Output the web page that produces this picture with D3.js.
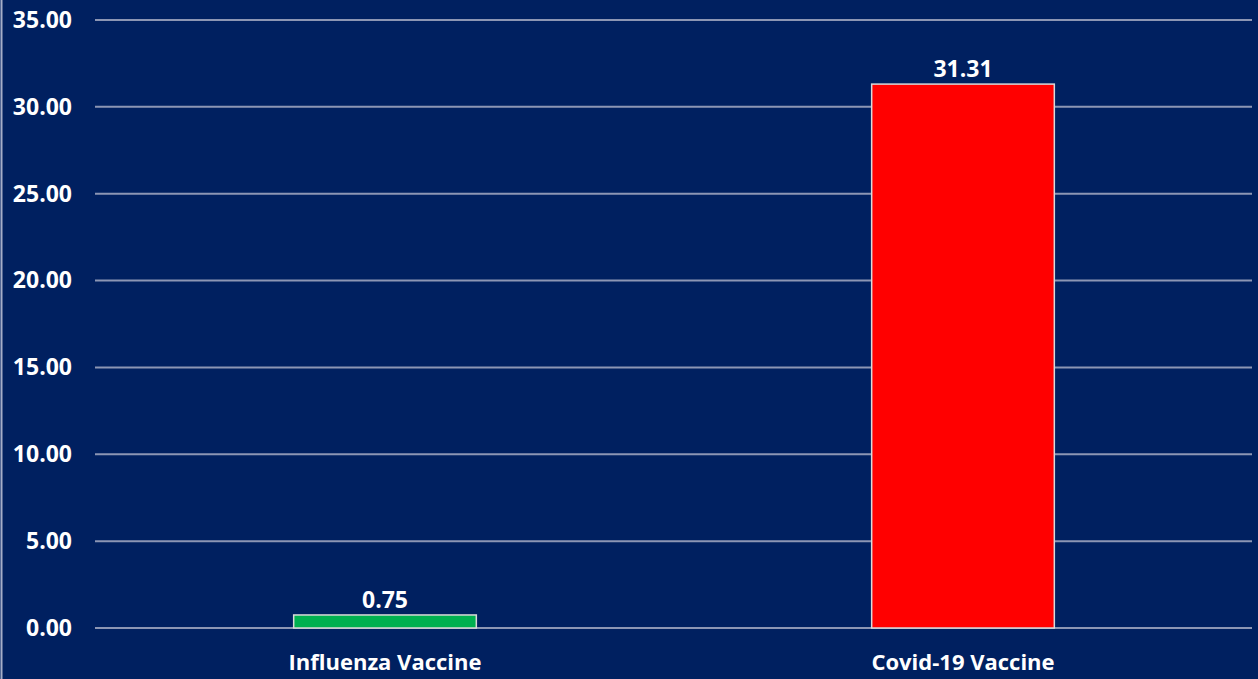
<!DOCTYPE html>
<html>
<head>
<meta charset="utf-8">
<script src="https://cdn.jsdelivr.net/npm/d3@7"></script>
<style>
  body { margin: 0; background: #002060; }
  svg { display: block; }
</style>
</head>
<body>
<script>
var width = 1258,
    height = 679;

// data
var categories = ["Influenza Vaccine", "Covid-19 Vaccine"];
var values = [0.75, 31.31];
var barColors = ["#00b050", "#ff0000"];
var yTicks = [0, 5, 10, 15, 20, 25, 30, 35];

var margin = {top: 20, right: 6, bottom: 51, left: 96};
var font = "'Open Sans', Lato, sans-serif";

var svg = d3.select("body").append("svg")
    .attr("width", width)
    .attr("height", height);

svg.append("rect")
    .attr("width", width)
    .attr("height", height)
    .attr("fill", "#002060");

// thin frame on the left edge
svg.append("line")
    .attr("x1", 1.5).attr("x2", 1.5)
    .attr("y1", 0).attr("y2", height)
    .attr("stroke", "#a6aec8")
    .attr("stroke-width", 2);

var x = d3.scaleBand()
    .domain(categories)
    .range([margin.left, width - margin.right])
    .padding(0);

var y = d3.scaleLinear()
    .domain([0, 35])
    .range([height - margin.bottom, margin.top]);

var barW = x.bandwidth() * 0.316;

// gridlines
svg.append("g")
    .selectAll("line")
    .data(yTicks)
    .enter().append("line")
    .attr("x1", margin.left - 1)
    .attr("x2", width - margin.right)
    .attr("y1", function(d) { return y(d); })
    .attr("y2", function(d) { return y(d); })
    .attr("stroke", "#8c96b4")
    .attr("stroke-width", 2);

// y axis labels
var yAxis = d3.axisLeft(y)
    .tickValues(yTicks)
    .tickSize(0)
    .tickPadding(0)
    .tickFormat(d3.format(".2f"));

var ya = svg.append("g")
    .attr("transform", "translate(72,0)")
    .call(yAxis);
ya.select(".domain").remove();
ya.selectAll("text")
    .attr("fill", "#ffffff")
    .style("font-family", font)
    .style("font-weight", "bold")
    .style("font-size", "23px");

// bars
svg.append("g")
    .selectAll("rect")
    .data(values)
    .enter().append("rect")
    .attr("x", function(d, i) { return x(categories[i]) + x.bandwidth() / 2 - barW / 2; })
    .attr("y", function(d) { return y(d); })
    .attr("width", barW)
    .attr("height", function(d) { return y(0) - y(d); })
    .attr("fill", function(d, i) { return barColors[i]; })
    .attr("stroke", "#d9d9d9")
    .attr("stroke-width", 1.5);

// value labels
svg.append("g")
    .selectAll("text")
    .data(values)
    .enter().append("text")
    .attr("x", function(d, i) { return x(categories[i]) + x.bandwidth() / 2; })
    .attr("y", function(d) { return y(d) - 7; })
    .attr("text-anchor", "middle")
    .attr("fill", "#ffffff")
    .style("font-family", font)
    .style("font-weight", "bold")
    .style("font-size", "23px")
    .text(function(d) { return d3.format(".2f")(d); });

// category labels
var xAxis = d3.axisBottom(x).tickSize(0).tickPadding(0);
var xa = svg.append("g")
    .attr("transform", "translate(0," + (height - 9) + ")")
    .call(xAxis);
xa.select(".domain").remove();
xa.selectAll("text")
    .attr("dy", 0)
    .attr("fill", "#ffffff")
    .style("font-family", font)
    .style("font-weight", "bold")
    .style("font-size", "22px");
</script>
</body>
</html>
